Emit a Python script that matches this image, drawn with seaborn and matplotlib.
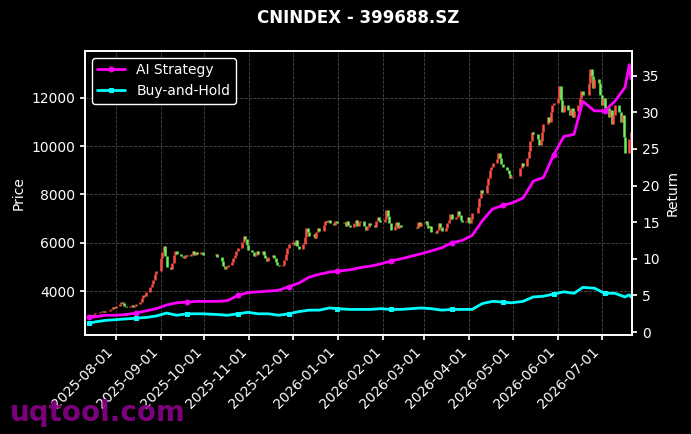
import pandas as pd
import matplotlib.pyplot as plt
import matplotlib.dates as mdates
import seaborn as sns

# daily closes, one line per trading week (2025-07-14 .. 2026-07-21)
first_open = 2900
closes = [
    2950, 3010, 2980, 3060, 3100,
    3150, 3120, 3180, 3140, 3170,
    3200, 3260, 3350, 3300, 3380,
    3450, 3560, 3500, 3400, 3350,
    3380, 3420, 3360, 3400, 3450,
    3550, 3700, 3850, 3780, 3950,
    4150, 4300, 4450, 4700, 4850,
    5350, 5600, 5850, 5450, 5000,
    4900, 5150, 5500, 5650, 5550,
    5450, 5400, 5350, 5500, 5450,
    5550, 5650, 5500, 5600, 5550,
    5600, 5500,
    5550, 5400,
    5250, 5050, 4900, 5000, 5100,
    5200, 5350, 5500, 5650, 5800,
    6050, 6300, 6150, 5900, 5700,
    5600, 5450, 5500, 5650, 5550,
    5650, 5500, 5350, 5250, 5400,
    5500, 5350, 5200, 5100, 5050,
    5100, 5300, 5550, 5800, 5950,
    6050, 5900, 6100, 5850, 5750,
    5950, 6250, 6600, 6450, 6300,
    6350, 6200, 6450, 6600, 6500,
    6750, 6900, 6850, 6950, 6800,
    6750, 6900, 6800,
    6850, 6700, 6900, 6750, 6650,
    6800, 6950, 6700, 6850, 6900,
    6700, 6550, 6650, 6800, 6750,
    6650, 6900, 7050, 6950, 6850,
    7000, 7350, 7100, 6800, 6550,
    6700, 6850, 6600, 6750, 6650,
    6600, 6850, 6700, 6800,
    6900, 6750, 6600, 6700, 6450,
    6400, 6550, 6800, 6650, 6500,
    6600, 6800, 6950, 7200, 7000,
    7050, 7300, 7150, 6950, 6850,
    6900, 7050, 6800, 7000, 7250,
    7500, 7850, 8200, 8050,
    8400, 8700, 9000, 9150, 9300,
    9450, 9700, 9500, 9250, 9150,
    9000, 8850, 8700, 8750,
    9100, 9300, 9200,
    9500, 9800, 10200, 10600, 10500,
    10300, 10050, 10200, 10600, 10900,
    11200, 11000, 11400, 11700, 11800,
    12000, 12500, 11900, 11400, 11700,
    11500, 11300, 11600, 11200, 11450,
    11700, 12000, 12300, 12100,
    12600, 13200, 12900, 12400, 12800,
    12600, 12100, 11700, 12000, 11600,
    11200, 11500, 10900, 11300, 11700,
    11400, 11000, 11300, 10400, 9700,
    10300, 10600,
]

holidays = [
    '2025-10-01', '2025-10-02', '2025-10-03', '2025-10-06', '2025-10-07', '2025-10-08',
    '2026-01-01', '2026-01-02',
    '2026-02-16', '2026-02-17', '2026-02-18', '2026-02-19', '2026-02-20', '2026-02-23',
    '2026-04-06', '2026-05-01', '2026-05-04', '2026-05-05', '2026-06-19',
]

# return curves, sampled at week ends
ret_dates = [
    '2025-07-14', '2025-07-18', '2025-07-25', '2025-08-01', '2025-08-08', '2025-08-15',
    '2025-08-22', '2025-08-29', '2025-09-05', '2025-09-12', '2025-09-19', '2025-09-26',
    '2025-09-30', '2025-10-10', '2025-10-17', '2025-10-24', '2025-10-31', '2025-11-07',
    '2025-11-14', '2025-11-21', '2025-11-28', '2025-12-05', '2025-12-12', '2025-12-19',
    '2025-12-26', '2025-12-31', '2026-01-09', '2026-01-16', '2026-01-23', '2026-01-30',
    '2026-02-06', '2026-02-13', '2026-02-27', '2026-03-06', '2026-03-13', '2026-03-20',
    '2026-03-27', '2026-04-03', '2026-04-10', '2026-04-17', '2026-04-24', '2026-04-30',
    '2026-05-08', '2026-05-15', '2026-05-22', '2026-05-29', '2026-06-05', '2026-06-12',
    '2026-06-18', '2026-06-26', '2026-07-03', '2026-07-10', '2026-07-17', '2026-07-20',
    '2026-07-21',
]
ai_return = [
    2.0, 2.1, 2.3, 2.3, 2.4, 2.6, 2.9, 3.2, 3.7, 4.0, 4.1, 4.2, 4.2, 4.2, 4.3, 5.0,
    5.4, 5.5, 5.6, 5.7, 6.2, 6.7, 7.5, 7.9, 8.2, 8.3, 8.5, 8.8, 9.0, 9.3, 9.7, 10.0,
    10.7, 11.1, 11.5, 12.2, 12.5, 13.2, 15.2, 16.8, 17.3, 17.6, 18.3, 20.6, 21.1, 24.2,
    26.7, 27.0, 31.5, 30.2, 30.2, 31.5, 33.4, 36.5, 34.6,
]
bh_return = [
    1.2, 1.4, 1.6, 1.7, 1.8, 1.9, 2.0, 2.2, 2.6, 2.3, 2.5, 2.5, 2.5, 2.4, 2.3, 2.5,
    2.7, 2.5, 2.5, 2.3, 2.5, 2.8, 3.0, 3.0, 3.3, 3.2, 3.1, 3.1, 3.1, 3.2, 3.1, 3.1,
    3.3, 3.2, 3.0, 3.1, 3.1, 3.1, 3.9, 4.2, 4.1, 4.0, 4.2, 4.8, 4.9, 5.2, 5.5, 5.3,
    6.1, 6.0, 5.3, 5.3, 4.8, 5.1, 4.8,
]

days = pd.bdate_range('2025-07-14', '2026-07-21')
days = days[~days.isin(pd.to_datetime(holidays))]
n = min(len(days), len(closes))
candles = pd.DataFrame({'date': days[:n], 'close': closes[:n]})
candles['open'] = candles['close'].shift(1).fillna(first_open)
candles['lo'] = candles[['open', 'close']].min(axis=1)
candles['hi'] = candles[['open', 'close']].max(axis=1)
candles['color'] = ['#ff4f45' if c >= o else '#6cf25a'
                    for o, c in zip(candles['open'], candles['close'])]

returns = pd.DataFrame({
    'date': pd.to_datetime(ret_dates),
    'AI Strategy': ai_return,
    'Buy-and-Hold': bh_return,
})

sns.set_theme(style="darkgrid", rc={
    "figure.facecolor": "black", "axes.facecolor": "black",
    "axes.edgecolor": "white", "axes.labelcolor": "white",
    "text.color": "white", "xtick.color": "white", "ytick.color": "white",
    "grid.color": "#4a4a4a", "grid.linestyle": "--", "grid.linewidth": 0.6,
    "xtick.bottom": True, "ytick.left": True,
    "font.size": 10, "axes.labelsize": 10, "xtick.labelsize": 10,
    "ytick.labelsize": 10, "legend.fontsize": 10, "axes.titlesize": 12,
})
plt.rcParams['font.family'] = ['DejaVu Sans']

fig = plt.figure(figsize=(6.91, 4.34), dpi=100)
ax = fig.add_axes([0.123, 0.228, 0.792, 0.655])
ax.vlines(candles['date'], candles['lo'], candles['hi'],
          colors=candles['color'], linewidth=1.8)
ax.set_ylim(2180, 13950)
ax.set_ylabel('Price')
ax.set_xlim(pd.Timestamp('2025-07-11'), pd.Timestamp('2026-07-22'))
ax.xaxis.set_major_locator(mdates.MonthLocator())
ax.xaxis.set_major_formatter(mdates.DateFormatter('%Y-%m-%d'))
plt.setp(ax.get_xticklabels(), rotation=45, ha='right')
ax.grid(True)
ax.tick_params(axis='both', length=3.5)
for s in ax.spines.values():
    s.set_color('white')

ax2 = ax.twinx()
sns.lineplot(data=returns, x='date', y='AI Strategy', ax=ax2, color='#ff00ff',
             linewidth=2, marker='o', markersize=3.5, markevery=5,
             markeredgecolor='#ff00ff', label='AI Strategy')
sns.lineplot(data=returns, x='date', y='Buy-and-Hold', ax=ax2, color='#00ffff',
             linewidth=2, marker='s', markersize=3.5, markevery=5,
             markeredgecolor='#00ffff', label='Buy-and-Hold')
ax2.set_ylim(-0.4, 38.4)
ax2.set_ylabel('Return')
ax2.grid(False)
ax2.set_xlim(pd.Timestamp('2025-07-11'), pd.Timestamp('2026-07-22'))
ax2.tick_params(axis='y', colors='white', right=True, length=3.5)
leg = ax2.legend(loc='upper left', facecolor='black', edgecolor='white',
                 labelcolor='white', framealpha=1)

ax.set_title('CNINDEX - 399688.SZ', fontweight='bold', color='white', pad=20)
fig.text(0.014, 0.03, 'uqtool.com', fontsize=20, fontweight='bold',
         color='#8b008b', alpha=0.9)

fig.savefig('out.png', dpi=100, facecolor='black')
